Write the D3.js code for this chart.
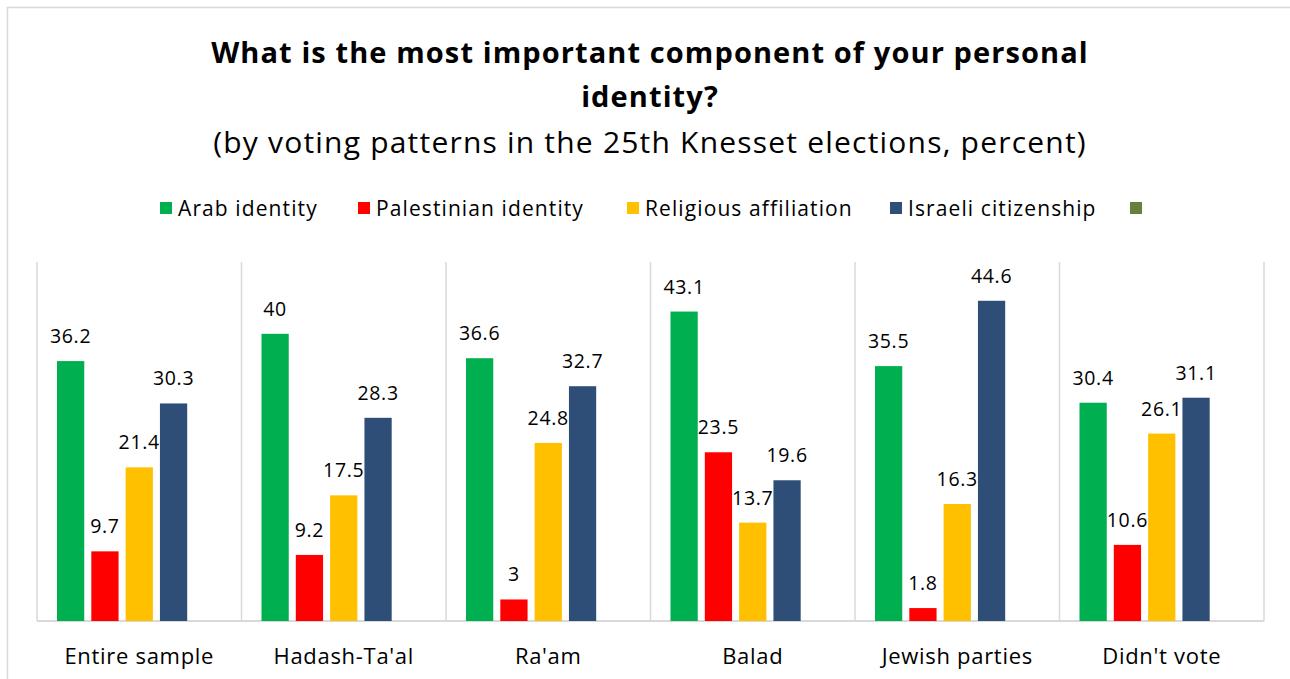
<!DOCTYPE html>
<html><head><meta charset="utf-8">
<script src="https://cdn.jsdelivr.net/npm/d3@7"></script>
<style>body{margin:0;background:#fff}svg{display:block}</style>
</head><body><svg id="c" width="1290" height="679"></svg>
<script>
const categories = ["Entire sample","Hadash-Ta'al","Ra'am","Balad","Jewish parties","Didn't vote"];
const seriesNames = ["Arab identity","Palestinian identity","Religious affiliation","Israeli citizenship",""];
const seriesColors = ["#00B050","#FF0000","#FFC000","#2E4E78","#64833A"];
const arabIdentity = [36.2,40,36.6,43.1,35.5,30.4];
const palestinianIdentity = [9.7,9.2,3,23.5,1.8,10.6];
const religiousAffiliation = [21.4,17.5,24.8,13.7,16.3,26.1];
const israeliCitizenship = [30.3,28.3,32.7,19.6,44.6,31.1];
const emptySeries = [null,null,null,null,null,null];
const values = [arabIdentity,palestinianIdentity,religiousAffiliation,israeliCitizenship,emptySeries];

const svg = d3.select("#c");
const font = "'Open Sans', 'Noto Sans', sans-serif";
svg.append("rect").attr("x",7.5).attr("y",7.5).attr("width",1300).attr("height",700)
  .attr("fill","none").attr("stroke","#d9d9d9").attr("stroke-width",1.5);

const L=37,R=1264,T=262,B=621;
const x0 = d3.scaleBand().domain(categories).range([L,R]).paddingInner(0).paddingOuter(0);
const x1 = d3.scaleBand().domain(d3.range(5)).range([20, x0.bandwidth()-20]).paddingInner(7/34).paddingOuter(0);
const y = d3.scaleLinear().domain([0,50]).range([B,T]);

const seps = categories.map(c=>x0(c)).concat([R]);
svg.append("g").selectAll("line").data(seps).join("line")
  .attr("x1",d=>d).attr("x2",d=>d).attr("y1",T).attr("y2",B)
  .attr("stroke","#d9d9d9").attr("stroke-width",1.5);
svg.append("line").attr("x1",L).attr("x2",R).attr("y1",B).attr("y2",B)
  .attr("stroke","#d9d9d9").attr("stroke-width",2);

const groups = svg.append("g").selectAll("g").data(categories).join("g")
  .attr("transform",c=>`translate(${x0(c)},0)`);
groups.each(function(c,ci){
  const g=d3.select(this);
  values.forEach((arr,si)=>{
    const v=arr[ci]; if(v==null) return;
    g.append("rect").attr("x",x1(si)).attr("width",x1.bandwidth())
      .attr("y",y(v)).attr("height",B-y(v)).attr("fill",seriesColors[si]);
    g.append("text").attr("x",x1(si)+x1.bandwidth()/2).attr("y",y(v)-18)
      .attr("text-anchor","middle").attr("font-family",font).attr("font-size",19.5)
      .attr("letter-spacing",0.7).attr("fill","#000").text(String(v));
  });
});

const xAxis = d3.axisBottom(x0).tickSize(0).tickPadding(27);
const ax = svg.append("g").attr("transform",`translate(0,${B})`).call(xAxis);
ax.select(".domain").remove();
ax.selectAll("text").attr("font-family",font).attr("font-size",22).attr("letter-spacing",0.7).attr("fill","#000");

svg.append("text").attr("x",650).attr("y",63).attr("text-anchor","middle")
  .attr("font-family",font).attr("font-weight","bold").attr("font-size",29).attr("letter-spacing",1.1)
  .text("What is the most important component of your personal");
svg.append("text").attr("x",650).attr("y",107).attr("text-anchor","middle")
  .attr("font-family",font).attr("font-weight","bold").attr("font-size",29).attr("letter-spacing",1.1)
  .text("identity?");
svg.append("text").attr("x",650).attr("y",153).attr("text-anchor","middle")
  .attr("font-family",font).attr("font-size",30).attr("letter-spacing",1.2)
  .text("(by voting patterns in the 25th Knesset elections, percent)");

const legX=[160,358,627,890,1130];
const leg = svg.append("g").selectAll("g").data(seriesNames).join("g")
  .attr("transform",(d,i)=>`translate(${legX[i]},202)`);
leg.append("rect").attr("width",12).attr("height",12).attr("fill",(d,i)=>seriesColors[i]);
leg.append("text").attr("x",18).attr("y",14).attr("font-family",font).attr("font-size",21)
  .attr("letter-spacing",1.1).text(d=>d);
</script></body></html>
